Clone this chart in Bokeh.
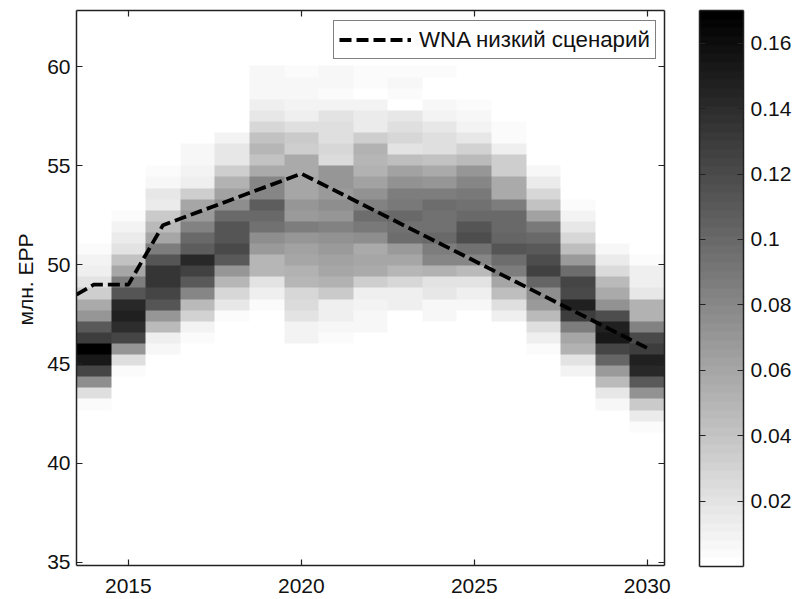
from bokeh.embed import file_html
from bokeh.resources import INLINE
from bokeh.plotting import figure
from bokeh.layouts import row
from bokeh.models import (LinearColorMapper, LinearAxis, FixedTicker, Range1d, Legend,
                          LegendItem, CustomJSTickFormatter, Title)
import numpy as np

FONT = "Liberation Sans"
years = list(range(2014, 2031))
y_low, y_high, n_bins = 34.83, 62.83, 50
value_max = 0.17

# first occupied bin, counted downward from the 60.03 level
first_bin = [16, 13, 8, 6, 6, 0, 0, 0, 0, 0, 0, 2, 4, 8, 10, 15, 17]

p2014 = [.005,.009,.011,.020,.033,.057,.070,.110,.130,.168,.153,.123,.077,.023,.003]
p2015 = [.003,.009,.015,.020,.040,.060,.087,.113,.143,.147,.140,.123,.070,.023,.003]
p2016 = [.002,.003,.007,.017,.015,.037,.047,.060,.087,.113,.133,.133,.123,.113,.070,.047,.013,.007]
p2017 = [.002,.006,.007,.010,.011,.033,.060,.067,.083,.100,.107,.143,.127,.110,.080,.047,.030,.010,.003]
p2018 = [.008,.018,.018,.033,.053,.063,.077,.100,.113,.113,.120,.110,.070,.050,.027,.018,.005]
p2019 = [.007,.007,.007,.012,.018,.027,.040,.050,.040,.057,.080,.080,.107,.100,.093,.077,.067,.050,.050,.020,.012,.003,.002]
p2020 = [.003,.006,.006,.010,.011,.023,.037,.033,.057,.057,.060,.060,.070,.067,.087,.070,.063,.060,.053,.050,.027,.025,.020,.010,.008]
p2021 = [.007,.006,.003,.010,.020,.023,.022,.029,.025,.070,.070,.067,.077,.070,.083,.073,.067,.063,.060,.053,.037,.013,.013,.007,.005]
p2022 = [.005,.005,.002,.010,.015,.015,.033,.053,.050,.053,.063,.073,.083,.097,.090,.077,.057,.060,.057,.033,.013,.010,.007,.007]
p2023 = [.003,.007,.005,.001,.017,.022,.027,.020,.043,.063,.073,.087,.090,.100,.093,.097,.067,.060,.050,.027,.013,.011,.002]
p2024 = [.003,0,0,.007,.009,.017,.023,.022,.042,.057,.070,.087,.097,.093,.093,.100,.087,.080,.053,.020,.018,.007,.007]
p2025 = [.002,.003,.006,.010,.018,.030,.047,.070,.080,.090,.093,.100,.113,.117,.093,.080,.047,.020,.013,.007]
p2026 = [.002,.003,.003,.013,.033,.033,.057,.057,.087,.100,.100,.103,.113,.097,.087,.060,.043,.022,.011,.002]
p2027 = [.002,.007,.015,.029,.040,.063,.089,.100,.110,.117,.127,.103,.077,.067,.047,.023,.011,.003]
p2028 = [.002,.002,.003,.008,.018,.029,.043,.067,.097,.123,.120,.147,.130,.087,.060,.053,.020,.008]
p2029 = [.002,.007,.015,.025,.047,.057,.073,.117,.147,.153,.123,.103,.067,.047,.017,.007]
p2030 = [.005,.011,.013,.017,.053,.053,.083,.120,.130,.147,.143,.110,.073,.037,.015,.005]
columns = [p2014, p2015, p2016, p2017, p2018, p2019, p2020, p2021, p2022, p2023, p2024,
           p2025, p2026, p2027, p2028, p2029, p2030]

scenario_x = [2013.5, 2014, 2015, 2016, 2020, 2030]
scenario_y = [48.5, 49, 49, 52, 54.6, 45.8]
x_ticks = [2015, 2020, 2025, 2030]
y_ticks = [35, 40, 45, 50, 55, 60]
cbar_ticks = [0.02, 0.04, 0.06, 0.08, 0.10, 0.12, 0.14, 0.16]

grid = np.zeros((n_bins, len(years)))
for j, (start, col) in enumerate(zip(first_bin, columns)):
    for i, v in enumerate(col):
        grid[44 - start - i, j] = v   # bin 44 is the one just below the 60.03 level

palette = ["#%02x%02x%02x" % (g, g, g) for g in np.linspace(255, 0, 64).round().astype(int)]
mapper = LinearColorMapper(palette=palette, low=0, high=value_max)
blank = CustomJSTickFormatter(code="return '';")


def style_axis(ax, labels=True):
    ax.axis_line_color = "#222222"
    ax.axis_line_width = 1.5
    ax.major_tick_line_color = "#222222"
    ax.major_tick_line_width = 1.2
    ax.major_tick_in = 6
    ax.major_tick_out = 0
    ax.minor_tick_line_color = None
    ax.major_label_text_font = FONT
    ax.major_label_text_font_size = "21px"
    ax.major_label_text_color = "#111111"
    ax.major_label_standoff = 8
    if not labels:
        ax.formatter = blank
        ax.major_label_text_font_size = "1px"
        ax.major_label_standoff = 0


p = figure(width=680, height=592, output_backend="svg", toolbar_location=None,
           x_range=Range1d(2013.5, 2030.5), y_range=Range1d(y_low, y_high),
           min_border_left=76, min_border_right=16, min_border_top=10, min_border_bottom=27,
           frame_width=588, frame_height=555, x_axis_location="below", y_axis_location="left")
p.grid.visible = False
p.outline_line_color = None
p.image(image=[grid], x=2013.5, y=y_low, dw=17, dh=y_high - y_low, color_mapper=mapper)
line = p.line(scenario_x, scenario_y, line_color="black", line_width=3.8, line_dash="12 5")

p.xaxis.ticker = FixedTicker(ticks=x_ticks)
p.yaxis.ticker = FixedTicker(ticks=y_ticks)
style_axis(p.xaxis[0])
style_axis(p.yaxis[0])
p.xaxis.major_label_standoff = 13
p.yaxis.major_label_standoff = 6

# y title: sits a little above the axis centre in the reference
p.add_layout(Title(text="млн. EPP", align="left", offset=240, standoff=16, text_font=FONT,
                   text_font_size="21px", text_font_style="normal", text_color="#111111"), "left")

top_axis = LinearAxis(ticker=FixedTicker(ticks=x_ticks))
right_axis = LinearAxis(ticker=FixedTicker(ticks=y_ticks))
style_axis(top_axis, labels=False)
style_axis(right_axis, labels=False)
p.add_layout(top_axis, "above")
p.add_layout(right_axis, "right")

legend = Legend(items=[LegendItem(label="WNA низкий сценарий", renderers=[line])],
                location=(257, 506), orientation="vertical", padding=5, margin=0,
                glyph_width=72, glyph_height=27, label_standoff=8, label_height=27,
                label_text_font=FONT, label_text_font_size="22.3px", label_text_color="#111111",
                border_line_color="black", border_line_width=1.5, background_fill_color="white",
                background_fill_alpha=1)
p.add_layout(legend, "center")

# colour bar panel, built on the same mapper
levels = np.linspace(0, value_max, 64).reshape(64, 1)
q = figure(width=114, height=592, output_backend="svg", toolbar_location=None,
           x_range=Range1d(0, 1), y_range=Range1d(0, value_max),
           min_border_left=19, min_border_right=51, min_border_top=10, min_border_bottom=26,
           frame_width=44, frame_height=556, y_axis_location="right", x_axis_location=None)
q.grid.visible = False
q.outline_line_color = None
q.image(image=[levels], x=0, y=0, dw=1, dh=value_max, color_mapper=mapper)
q.yaxis.ticker = FixedTicker(ticks=cbar_ticks)
q.yaxis.formatter = CustomJSTickFormatter(code="return String(Math.round(tick*100)/100);")
style_axis(q.yaxis[0])
q.yaxis.major_label_standoff = 7
cb_left = LinearAxis(ticker=FixedTicker(ticks=cbar_ticks))
style_axis(cb_left, labels=False)
q.add_layout(cb_left, "left")
cb_top = LinearAxis(ticker=FixedTicker(ticks=[]))
cb_bottom = LinearAxis(ticker=FixedTicker(ticks=[]))
style_axis(cb_top, labels=False)
style_axis(cb_bottom, labels=False)
q.add_layout(cb_top, "above")
q.add_layout(cb_bottom, "below")

layout = row(p, q, spacing=0)
open("out.html", "w").write(file_html(layout, INLINE))
